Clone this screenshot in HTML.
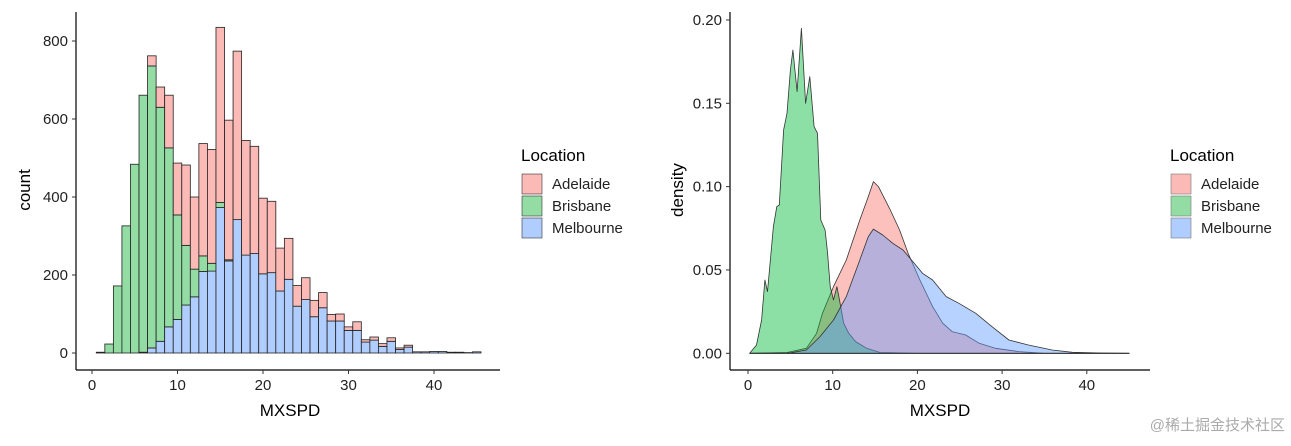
<!DOCTYPE html>
<html><head><meta charset="utf-8"><style>
body{margin:0;background:#fff;}
svg text{font-family:"Liberation Sans","Noto Sans CJK SC",sans-serif;}
</style></head><body>
<svg id="s" width="1291" height="441" viewBox="0 0 1291 441" xmlns="http://www.w3.org/2000/svg">
<text x="1285" y="430" font-size="15" fill="#aaa" text-anchor="end">@稀土掘金技术社区</text>
</svg>
<script>
const binCenters=[1,2,3,4,5,6,7,8,9,10,11,12,13,14,15,16,17,18,19,20,21,22,23,24,25,26,27,28,29,30,31,32,33,34,35,36,37,38,39,40,41,42,43,44,45];
const melCounts=[0,0,0,0,0,2,13,30,67,86,123,144,209,210,373,236,342,251,255,203,206,159,189,120,137,93,116,82,82,58,58,28,33,17,30,9,15,3,3,4,4,2,2,1,3];
const briCounts=[2,23,172,326,484,659,723,600,459,268,153,71,40,20,13,3,0,0,0,0,0,0,0,0,0,0,0,0,0,0,0,0,0,0,0,0,0,0,0,0,0,0,0,0,0];
const adeCounts=[0,0,0,0,0,0,26,52,135,133,206,185,288,292,449,358,432,294,275,194,183,110,105,53,56,42,39,17,18,9,22,6,8,7,9,4,5,0,0,0,0,0,0,0,0];
const countTicks=[0,200,400,600,800];
const xTicks=[0,10,20,30,40];
const densTicks=[0,0.05,0.10,0.15,0.20];
const densTickLabels=["0.00","0.05","0.10","0.15","0.20"];
const briDensX=[0.2,1,1.6,2,2.3,3,3.4,3.7,4.2,4.6,5,5.3,5.8,6.3,6.8,7.3,7.8,8.2,8.6,9.1,9.4,9.7,10.1,10.5,10.8,11.3,11.9,12.7,14,15.6,20,45];
const briDensY=[0,0.005,0.02,0.044,0.037,0.076,0.088,0.089,0.134,0.144,0.17,0.182,0.157,0.195,0.15,0.166,0.136,0.132,0.08,0.074,0.06,0.04,0.032,0.04,0.032,0.018,0.012,0.007,0.003,0.0005,0,0];
const adeDensX=[0.2,4.6,6.9,8.1,8.8,10.1,11.6,13.2,14.2,14.8,15.4,16.8,17.9,18.9,20.3,21.8,23,24.1,25.7,27.3,29.2,32,35,45];
const adeDensY=[0,0.0005,0.003,0.012,0.024,0.04,0.056,0.08,0.094,0.103,0.1,0.086,0.074,0.06,0.044,0.028,0.018,0.013,0.011,0.006,0.003,0.001,0,0];
const melDensX=[0.2,5,6.9,8.5,10.1,11.6,13.2,14.2,14.8,15.9,17.1,18.3,19.3,20.6,21.8,23.4,24.9,26.9,28.8,30.8,33.1,35.9,38.3,41.8,45];
const melDensY=[0,0.0003,0.002,0.01,0.02,0.034,0.056,0.07,0.0745,0.071,0.066,0.062,0.056,0.048,0.044,0.034,0.03,0.024,0.016,0.008,0.005,0.002,0.0006,0.0002,0];
const locations=["Adelaide","Brisbane","Melbourne"];
const colors={Adelaide:"#F8766D",Brisbane:"#00BA38",Melbourne:"#619CFF"};
const light={Adelaide:"#FBBAB6",Brisbane:"#93DCA4",Melbourne:"#B0CDFF"};

const NS="http://www.w3.org/2000/svg";
const svg=document.getElementById('s');
function mk(tag,attrs,parent){const e=document.createElementNS(NS,tag);for(const k in attrs)e.setAttribute(k,attrs[k]);(parent||svg).appendChild(e);return e;}

const lx=v=>92+v*8.55, ly=v=>353-v*0.39;
const g1=mk('g',{});


binCenters.forEach((c,i)=>{
  let base=0;
  [["Melbourne",melCounts[i]],["Brisbane",briCounts[i]],["Adelaide",adeCounts[i]]].forEach(([loc,v])=>{
    if(v<=0 && !(loc==="Melbourne"))return;
    const r=mk('rect',{x:lx(c-0.5),y:ly(base+v),width:8.55,height:Math.max(0,ly(base)-ly(base+v)),fill:light[loc],stroke:'#222','stroke-width':0.8},g1);
    
    
    base+=v;
  });
});
mk('line',{x1:76,y1:12,x2:76,y2:370,stroke:'#000','stroke-width':1.2},g1);
mk('line',{x1:76,y1:370,x2:500,y2:370,stroke:'#000','stroke-width':1.2},g1);
countTicks.forEach(t=>{
  mk('line',{x1:72,y1:ly(t),x2:76,y2:ly(t),stroke:'#333'},g1);
  const tx=mk('text',{x:68,y:ly(t)+5,'font-size':15,'text-anchor':'end',fill:'#222'},g1);tx.textContent=t;
  
  
});
xTicks.forEach(t=>{
  mk('line',{x1:lx(t),y1:370,x2:lx(t),y2:374,stroke:'#333'},g1);
  const tx=mk('text',{x:lx(t),y:390,'font-size':15,'text-anchor':'middle',fill:'#222'},g1);tx.textContent=t;
  
  
});
let t1=mk('text',{x:290,y:416,'font-size':17,'text-anchor':'middle'},g1);t1.textContent='MXSPD';


t1=mk('text',{x:0,y:0,'font-size':17,'text-anchor':'middle',transform:'translate(30,190) rotate(-90)'},g1);t1.textContent='count';



const rx=v=>748+v*8.47, ry=v=>353.3-v*1666.7;
const g2=mk('g',{});


[["Adelaide",adeDensX,adeDensY],["Brisbane",briDensX,briDensY],["Melbourne",melDensX,melDensY]].forEach(([loc,xs,ys])=>{
  let d='M'+rx(xs[0])+','+ry(0);
  xs.forEach((x,i)=>d+=' L'+rx(x).toFixed(1)+','+ry(ys[i]).toFixed(1));
  d+=' L'+rx(xs[xs.length-1])+','+ry(0)+' Z';
  const p=mk('path',{d:d,fill:colors[loc],'fill-opacity':0.45,stroke:'#333','stroke-width':0.8,'stroke-linejoin':'round'},g2);
  
  
});
mk('line',{x1:730,y1:12,x2:730,y2:370,stroke:'#000','stroke-width':1.2},g2);
mk('line',{x1:730,y1:370,x2:1150,y2:370,stroke:'#000','stroke-width':1.2},g2);
densTicks.forEach((t,i)=>{
  mk('line',{x1:726,y1:ry(t),x2:730,y2:ry(t),stroke:'#333'},g2);
  const tx=mk('text',{x:722,y:ry(t)+5,'font-size':15,'text-anchor':'end',fill:'#222'},g2);tx.textContent=densTickLabels[i];
  
  
});
xTicks.forEach(t=>{
  mk('line',{x1:rx(t),y1:370,x2:rx(t),y2:374,stroke:'#333'},g2);
  const tx=mk('text',{x:rx(t),y:390,'font-size':15,'text-anchor':'middle',fill:'#222'},g2);tx.textContent=t;
  
  
});
t1=mk('text',{x:940,y:416,'font-size':17,'text-anchor':'middle'},g2);t1.textContent='MXSPD';


t1=mk('text',{x:0,y:0,'font-size':17,'text-anchor':'middle',transform:'translate(683,190) rotate(-90)'},g2);t1.textContent='density';



[[521,'left'],[1170,'right']].forEach(([x0,side])=>{
  const g=mk('g',{});
  
  
  const tt=mk('text',{x:x0,y:161,'font-size':17},g);tt.textContent='Location';
  
  
  locations.forEach((loc,i)=>{
    const y=173+i*22;
    const r=mk('rect',{x:x0+1,y:y+1,width:20,height:20,fill:light[loc],stroke:side==='left'?'#333':'#777','stroke-width':0.6},g);
    
    
    const t=mk('text',{x:x0+31,y:y+16,'font-size':15,fill:'#222'},g);t.textContent=loc;
    
    
  });
});
</script>
</body></html>
